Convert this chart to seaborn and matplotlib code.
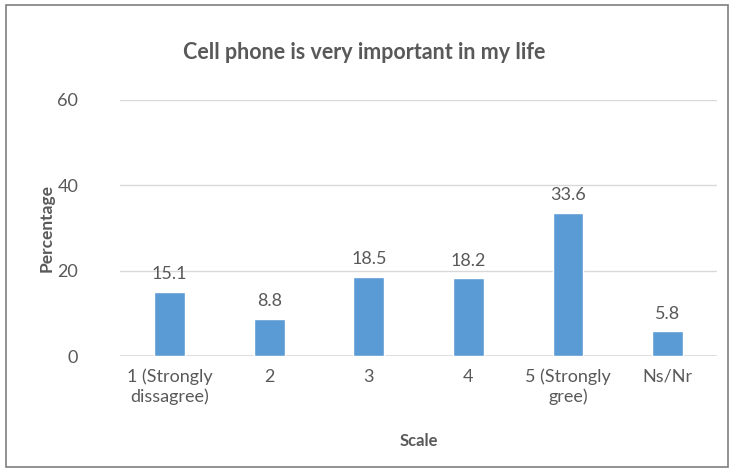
import matplotlib
matplotlib.use("Agg")
import matplotlib.pyplot as plt
import seaborn as sns
import pandas as pd
from matplotlib.patches import Rectangle

categories = ["1 (Strongly\ndissagree)", "2", "3", "4", "5 (Strongly\ngree)", "Ns/Nr"]
values = [15.1, 8.8, 18.5, 18.2, 33.6, 5.8]
yticks = [0, 20, 40, 60]

sns.set_theme(style="white")
plt.rcParams['font.family'] = ['Lato', 'DejaVu Sans']

df = pd.DataFrame({"Scale": categories, "Percentage": values})

fig = plt.figure(figsize=(7.35, 4.73), dpi=100)
ax = fig.add_axes([0.163, 0.247, 0.813, 0.542])

sns.barplot(data=df, x="Scale", y="Percentage", color="#5B9BD5", width=0.31,
            saturation=1, ax=ax, zorder=3)

txt = "#595959"
ax.set_ylim(0, 60)
ax.set_yticks(yticks)
ax.set_yticklabels([str(v) for v in yticks], color=txt, fontsize=13)
ax.tick_params(axis='x', colors=txt, labelsize=13, length=0, pad=9)
ax.tick_params(axis='y', length=0, pad=30)
for lbl in ax.get_xticklabels():
    lbl.set_color(txt)
    lbl.set_linespacing(1.25)
ax.grid(axis='y', color="#D9D9D9", linewidth=1, zorder=0)
for s in ax.spines.values():
    s.set_visible(False)
ax.axhline(0, color="#D9D9D9", linewidth=1.2, zorder=2)

for c in ax.containers:
    ax.bar_label(c, labels=[f"{v:.1f}" for v in values], padding=7, color=txt, fontsize=13)

ax.set_xlabel("Scale", fontsize=12, fontweight="bold", color=txt, labelpad=20)
ax.set_ylabel("Percentage", fontsize=12.5, fontweight="bold", color=txt, labelpad=2)
fig.text(0.495, 0.89, "Cell phone is very important in my life", ha="center", va="center",
         fontsize=15.5, fontweight="bold", color=txt)

fig.patches.append(Rectangle((6/735, 6/473), 722/735, 462/473, transform=fig.transFigure,
                             fill=False, edgecolor="#7F7F7F", linewidth=1.2))

fig.savefig("out.png", dpi=100)
